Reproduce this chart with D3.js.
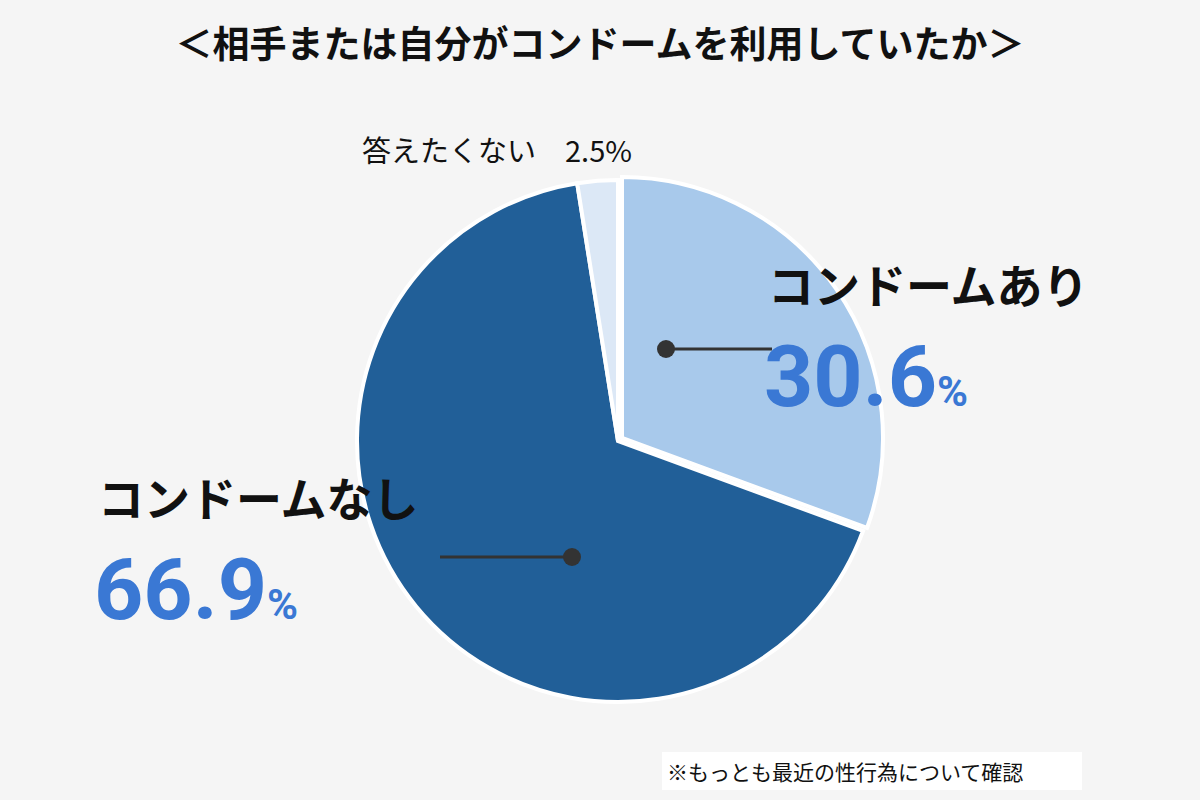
<!DOCTYPE html>
<html><head><meta charset="utf-8">
<script src="https://cdn.jsdelivr.net/npm/d3@7"></script>
<style>body{margin:0;background:#f5f5f5}text{font-family:"Noto Sans CJK JP","Noto Sans",sans-serif}</style>
</head><body>
<svg id="chart" width="1200" height="800"></svg>
<script>
var categories = ['コンドームあり', 'コンドームなし', '答えたくない']
var values = [30.6, 66.9, 2.5]
var colors = ['#a8c9eb', '#215f98', '#dce8f6']

var svg = d3.select('#chart')
svg.append('rect').attr('width', 1200).attr('height', 800).attr('fill', '#f5f5f5')

svg.append('text').attr('x', 600).attr('y', 58).attr('text-anchor', 'middle')
  .attr('font-size', 37).attr('font-weight', 'bold').attr('fill', '#111')
  .text('＜相手または自分がコンドームを利用していたか＞')

var cx = 618, cy = 441, r = 261
var pie = d3.pie().sort(null).value(function (d) { return d })
var arc = d3.arc().innerRadius(0).outerRadius(r)
var g = svg.append('g').attr('transform', 'translate(' + cx + ',' + cy + ')')
g.selectAll('path').data(pie(values)).enter().append('path')
  .attr('d', arc)
  .attr('fill', function (d, i) { return colors[i] })
  .attr('stroke', '#fff').attr('stroke-width', 4)
  .attr('transform', function (d, i) { return i === 0 ? 'translate(4,-3)' : null })

// leader lines
function leader (x1, x2, y) {
  svg.append('line').attr('x1', x1).attr('x2', x2).attr('y1', y).attr('y2', y)
    .attr('stroke', '#333').attr('stroke-width', 3)
  svg.append('circle').attr('cx', x1).attr('cy', y).attr('r', 9).attr('fill', '#333')
}
leader(666, 772, 349)
leader(572, 440, 557)

function bigLabel (x, y, name, val) {
  svg.append('text').attr('x', x).attr('y', y).attr('font-size', 46).attr('font-weight', 'bold')
    .attr('fill', '#111').text(name)
  var t = svg.append('text').attr('x', x - 4).attr('y', y + 103).attr('font-family', 'Roboto, Arial, sans-serif')
    .attr('font-weight', 'bold').attr('fill', '#3a78d4')
  t.append('tspan').attr('font-size', 86).attr('font-family', 'Roboto, Arial, sans-serif').text(val.toFixed(1))
  t.append('tspan').attr('font-size', 42).attr('font-family', 'Roboto, Arial, sans-serif').text('%')
}
bigLabel(768, 303, categories[0], values[0])
bigLabel(98, 516, categories[1], values[1])

svg.append('text').attr('x', 362).attr('y', 162).attr('font-size', 29).attr('fill', '#111')
  .text(categories[2] + '\u3000' + values[2] + '%')

svg.append('rect').attr('x', 662).attr('y', 752).attr('width', 420).attr('height', 38).attr('fill', '#fff')
svg.append('text').attr('x', 667).attr('y', 780).attr('font-size', 21).attr('fill', '#111')
  .text('※もっとも最近の性行為について確認')
</script>
</body></html>
